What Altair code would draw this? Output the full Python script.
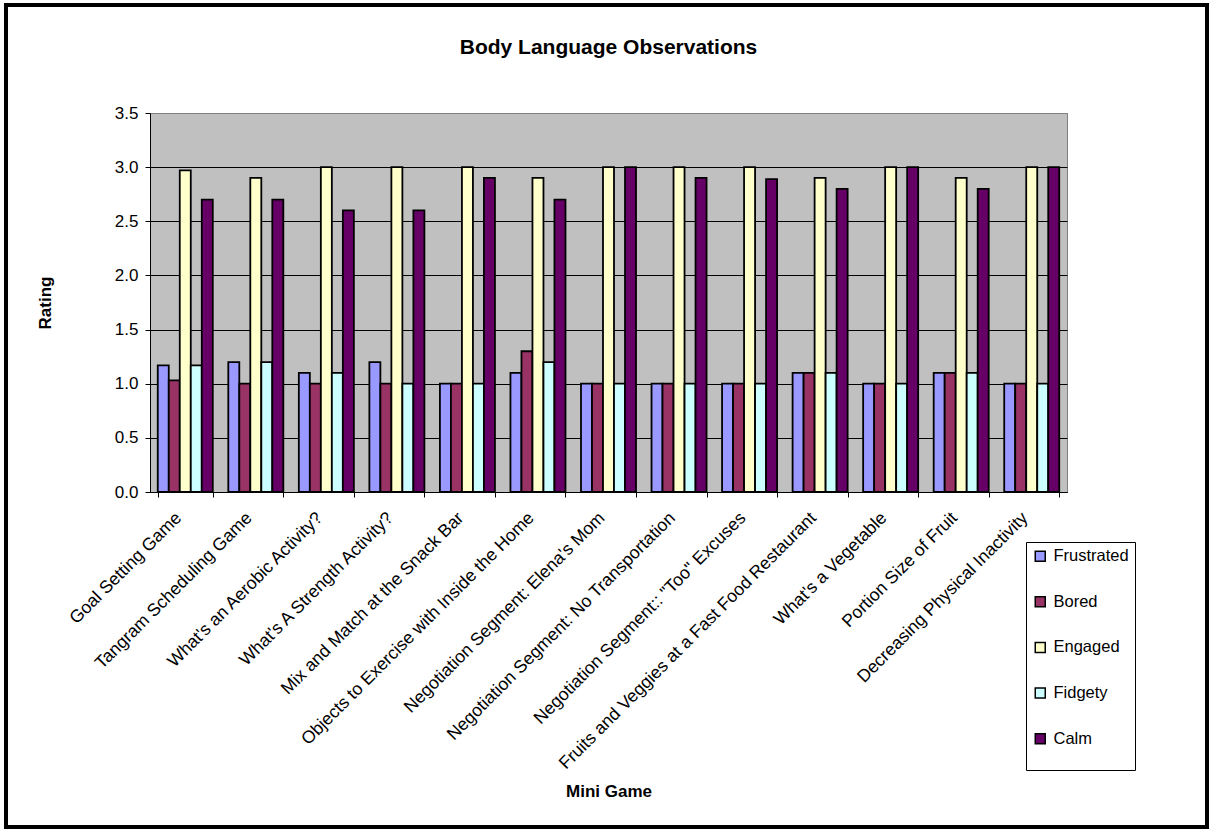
import altair as alt
import pandas as pd

# Mini games (x categories) and the five body-language ratings per game
games = [
    "Goal Setting Game",
    "Tangram Scheduling Game",
    "What's an Aerobic Activity?",
    "What's A Strength Activity?",
    "Mix and Match at the Snack Bar",
    "Objects to Exercise with Inside the Home",
    "Negotiation Segment: Elena's Mom",
    "Negotiation Segment: No Transportation",
    "Negotiation Segment:: \"Too\" Excuses",
    "Fruits and Veggies at a Fast Food Restaurant",
    "What's a Vegetable",
    "Portion Size of Fruit",
    "Decreasing Physical Inactivity",
]
series = ["Frustrated", "Bored", "Engaged", "Fidgety", "Calm"]

frustrated = [1.17, 1.2, 1.1, 1.2, 1.0, 1.1, 1.0, 1.0, 1.0, 1.1, 1.0, 1.1, 1.0]
bored      = [1.03, 1.0, 1.0, 1.0, 1.0, 1.3, 1.0, 1.0, 1.0, 1.1, 1.0, 1.1, 1.0]
engaged    = [2.97, 2.9, 3.0, 3.0, 3.0, 2.9, 3.0, 3.0, 3.0, 2.9, 3.0, 2.9, 3.0]
fidgety    = [1.17, 1.2, 1.1, 1.0, 1.0, 1.2, 1.0, 1.0, 1.0, 1.1, 1.0, 1.1, 1.0]
calm       = [2.7, 2.7, 2.6, 2.6, 2.9, 2.7, 3.0, 2.9, 2.89, 2.8, 3.0, 2.8, 3.0]

colors = ["#9999FF", "#993366", "#FFFFCC", "#CCFFFF", "#660066"]
y_ticks = [0.0, 0.5, 1.0, 1.5, 2.0, 2.5, 3.0, 3.5]

rows = []
for i, g in enumerate(games):
    for s, vals in zip(series, [frustrated, bored, engaged, fidgety, calm]):
        rows.append({"game": g, "series": s, "value": vals[i]})
df = pd.DataFrame(rows)

FONT = "Liberation Sans"
W, H = 917, 379

bars = alt.Chart(df).mark_bar(stroke="black", strokeWidth=1.8).encode(
    x=alt.X(
        "game:N",
        sort=games,
        title="Mini Game",
        scale=alt.Scale(paddingInner=0.22, paddingOuter=0.11),
        axis=alt.Axis(
            labelAngle=-45,
            labelAlign="right",
            labelBaseline="middle",
            labelOffset=-7,
            labelPadding=18,
            labelFontSize=17.6,
            labelColor="black",
            labelLimit=600,
            tickBand="extent",
            tickSize=5,
            tickColor="black",
            domainColor="black",
            titleFontSize=17,
            titleFontWeight="bold",
            titleX=W / 2,
            titleY=299,
            titleBaseline="middle",
            titleColor="black",
        ),
    ),
    xOffset=alt.XOffset(
        "series:N", sort=series, scale=alt.Scale(paddingInner=0, paddingOuter=0)
    ),
    y=alt.Y(
        "value:Q",
        title="Rating",
        scale=alt.Scale(domain=[0, 3.5], nice=False),
        axis=alt.Axis(
            values=y_ticks,
            format=".1f",
            labelFontSize=17,
            labelColor="black",
            labelPadding=7,
            tickSize=5,
            tickColor="black",
            domainColor="black",
            grid=True,
            gridColor=alt.condition(
                "datum.value >= 3.5", alt.value("#808080"), alt.value("black")
            ),
            gridWidth=1,
            titleFontSize=17,
            titleFontWeight="bold",
            titleX=-105,
            titleY=H / 2,
            titleBaseline="middle",
            titleColor="black",
        ),
    ),
    color=alt.Color(
        "series:N",
        sort=series,
        scale=alt.Scale(domain=series, range=colors),
        legend=alt.Legend(
            title=" ",
            titleOrient="bottom",
            titleFontSize=9,
            titlePadding=8,
            orient="none",
            legendX=876,
            legendY=429,
            direction="vertical",
            strokeColor="black",
            fillColor="white",
            padding=6,
            rowPadding=28.6,
            symbolType="square",
            symbolSize=100,
            symbolStrokeColor="black",
            symbolStrokeWidth=1.5,
            labelFontSize=16.5,
            labelOffset=5,
            labelColor="black",
        ),
    ),
)

# Outer frame around the whole chart
frame = alt.Chart(alt.Data(values=[{}])).mark_rect(
    fill="transparent", stroke="black", strokeWidth=4
).encode(
    x=alt.value(-144),
    x2=alt.value(1057),
    y=alt.value(-108),
    y2=alt.value(714),
)

chart = (
    alt.layer(bars, frame)
    .properties(
        width=W,
        height=H,
        padding={"left": 150, "top": 113, "right": 142, "bottom": 338},
        autosize=alt.AutoSizeParams(type="none"),
        title=alt.TitleParams(
            "Body Language Observations",
            fontSize=21,
            fontWeight="bold",
            font=FONT,
            anchor="middle",
            offset=-55,
            color="black",
        ),
    )
    .configure(background="white", font=FONT)
    .configure_view(fill="#C0C0C0", stroke="#808080", strokeWidth=1)
)

chart.save("out.html", embed_options={"renderer": "svg", "actions": False})
